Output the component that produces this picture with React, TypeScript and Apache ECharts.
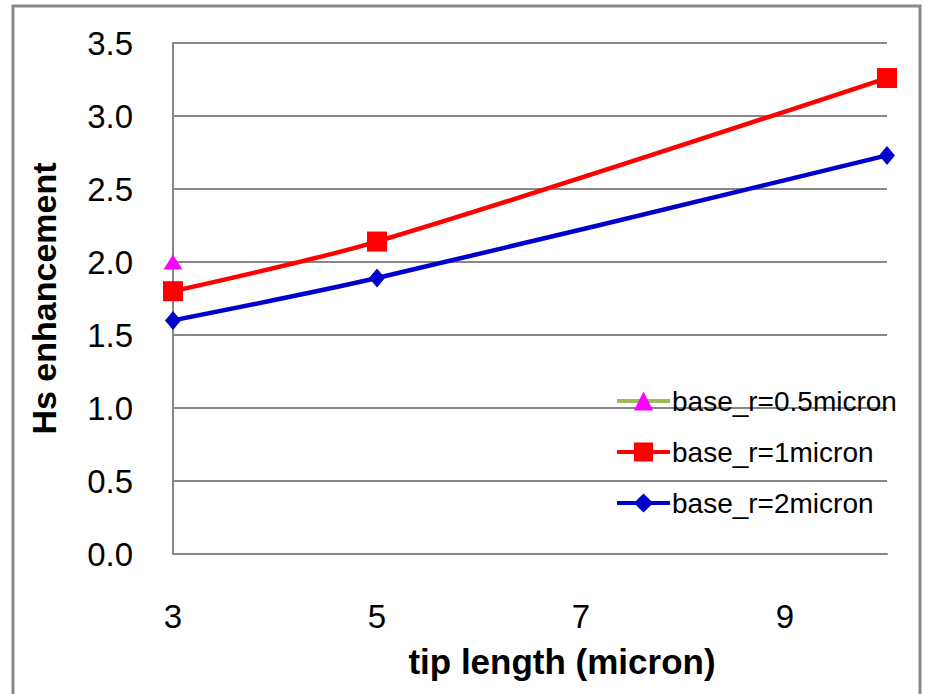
import React, { useEffect, useRef } from "react";
import * as echarts from "echarts";

const tipLength = [3, 5, 10];
const baseR1 = [1.8, 2.14, 3.26];
const baseR2 = [1.6, 1.89, 2.73];
const tipLength05 = [3];
const baseR05 = [2.0];
const seriesNames = ["base_r=0.5micron", "base_r=1micron", "base_r=2micron"];
const yTicks = [0, 0.5, 1, 1.5, 2, 2.5, 3, 3.5];

const FONT = "'Liberation Sans', Arial, sans-serif";
const GRAY = "#878787";

export default function App() {
  const ref = useRef<HTMLDivElement>(null);
  useEffect(() => {
    if (!ref.current) return;
    const chart = echarts.init(ref.current, null, { renderer: "svg" });
    const pair = (xs: number[], ys: number[]) => xs.map((x, i) => [x, ys[i]]);
    chart.setOption({
      animation: false,
      backgroundColor: "#ffffff",
      graphic: [
        {
          type: "rect",
          shape: { x: 13, y: 6, width: 907, height: 720 },
          style: { fill: "none", stroke: GRAY, lineWidth: 3 },
          silent: true,
        },
      ],
      grid: { left: 173, right: 38, top: 43, bottom: 140, containLabel: false },
      legend: {
        orient: "vertical",
        left: 610,
        top: 381,
        padding: 5,
        itemWidth: 53,
        itemHeight: 24,
        itemGap: 21,
        lineStyle: { width: 4 },
        textStyle: { fontFamily: FONT, fontSize: 28, color: "#000", lineHeight: 30, padding: [0, 0, 0, -3] },
        data: seriesNames,
      },
      xAxis: {
        type: "value",
        min: 3,
        max: 10,
        interval: 2,
        name: "tip length (micron)",
        nameLocation: "middle",
        nameGap: 90,
        nameTextStyle: {
          fontFamily: FONT,
          fontSize: 35,
          fontWeight: "bold",
          color: "#000",
          padding: [0, 0, 0, 64],
        },
        axisLine: { show: true, lineStyle: { color: GRAY, width: 2 } },
        axisTick: { show: false },
        splitLine: { show: false },
        axisLabel: {
          margin: 46,
          fontFamily: FONT,
          fontSize: 33,
          color: "#000",
          showMaxLabel: false,
          formatter: (v: number) => (v === 10 ? "" : String(v)),
        },
      },
      yAxis: {
        type: "value",
        min: yTicks[0],
        max: yTicks[yTicks.length - 1],
        interval: 0.5,
        name: "Hs enhancement",
        nameLocation: "middle",
        nameGap: 112,
        nameRotate: 90,
        nameTextStyle: { fontFamily: FONT, fontSize: 34, fontWeight: "bold", color: "#000" },
        axisLine: { show: true, lineStyle: { color: GRAY, width: 2 } },
        axisTick: { show: false },
        splitLine: { show: true, lineStyle: { color: GRAY, width: 2 } },
        axisLabel: {
          margin: 40,
          fontFamily: FONT,
          fontSize: 33,
          color: "#000",
          formatter: (v: number) => v.toFixed(1),
        },
      },
      series: [
        {
          name: seriesNames[0],
          type: "line",
          data: pair(tipLength05, baseR05),
          symbol: "triangle",
          symbolSize: [19, 15],
          lineStyle: { color: "#9BBB59", width: 4.5 },
          itemStyle: { color: "#FF00FF" },
        },
        {
          name: seriesNames[1],
          type: "line",
          data: pair(tipLength, baseR1),
          smooth: 0.3,
          symbol: "rect",
          symbolSize: 20,
          lineStyle: { color: "#FF0000", width: 4.5 },
          itemStyle: { color: "#FF0000" },
        },
        {
          name: seriesNames[2],
          type: "line",
          data: pair(tipLength, baseR2),
          smooth: 0.3,
          symbol: "diamond",
          symbolSize: [16, 19],
          lineStyle: { color: "#0000CC", width: 4.5 },
          itemStyle: { color: "#0000CC" },
        },
      ],
    });
    return () => chart.dispose();
  }, []);
  return (
    <div
      ref={ref}
      style={{ position: "absolute", left: 0, top: 0, width: 925, height: 694, background: "#fff" }}
    />
  );
}
